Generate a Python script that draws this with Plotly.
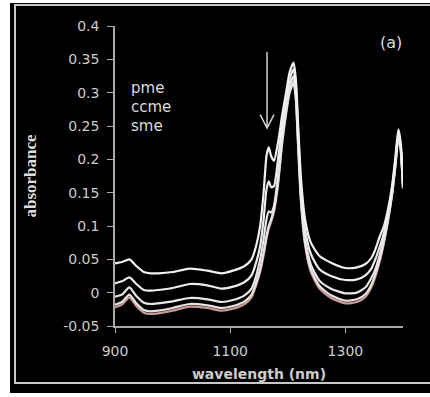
import plotly.graph_objects as go

wavelength = [900, 912, 925, 937, 950, 962, 975, 1000, 1030, 1060, 1085, 1105, 1125, 1137, 1145,
              1152, 1158, 1163, 1167, 1171, 1176, 1183, 1190, 1197, 1203, 1210, 1214, 1218, 1223,
              1230, 1240, 1255, 1275, 1300, 1320, 1335, 1345, 1352, 1360, 1367, 1374, 1381, 1387,
              1392, 1396, 1400]

s1 = [0.044, 0.046, 0.050, 0.040, 0.031, 0.029, 0.029, 0.031, 0.036, 0.033, 0.029, 0.033, 0.040,
      0.050, 0.070, 0.100, 0.150, 0.205, 0.218, 0.205, 0.198, 0.225, 0.265, 0.300, 0.330, 0.345,
      0.320, 0.250, 0.170, 0.110, 0.075, 0.055, 0.045, 0.037, 0.038, 0.043, 0.052, 0.065, 0.085,
      0.100, 0.125, 0.160, 0.205, 0.245, 0.225, 0.165]
s2 = [0.014, 0.017, 0.023, 0.013, 0.004, 0.003, 0.004, 0.007, 0.013, 0.011, 0.006, 0.009, 0.016,
      0.026, 0.045, 0.070, 0.110, 0.155, 0.167, 0.158, 0.160, 0.200, 0.250, 0.290, 0.320, 0.335,
      0.310, 0.240, 0.155, 0.095, 0.058, 0.035, 0.025, 0.019, 0.020, 0.026, 0.036, 0.050, 0.070,
      0.090, 0.118, 0.155, 0.200, 0.240, 0.220, 0.162]
s3 = [-0.006, -0.003, 0.008, -0.005, -0.015, -0.017, -0.016, -0.013, -0.008, -0.010, -0.014, -0.011,
      -0.004, 0.006, 0.025, 0.050, 0.080, 0.110, 0.122, 0.120, 0.130, 0.175, 0.235, 0.280, 0.310,
      0.325, 0.300, 0.230, 0.145, 0.082, 0.042, 0.018, 0.006, -0.001, 0.000, 0.008, 0.022, 0.035,
      0.058, 0.082, 0.112, 0.150, 0.195, 0.237, 0.218, 0.160]
s4 = [-0.018, -0.014, -0.003, -0.016, -0.026, -0.028, -0.027, -0.023, -0.017, -0.019, -0.023, -0.020,
      -0.013, -0.003, 0.015, 0.035, 0.060, 0.085, 0.100, 0.110, 0.125, 0.165, 0.225, 0.270, 0.300,
      0.315, 0.290, 0.220, 0.138, 0.075, 0.035, 0.010, -0.004, -0.012, -0.010, -0.002, 0.012, 0.028,
      0.052, 0.078, 0.110, 0.148, 0.193, 0.235, 0.215, 0.158]
s5 = [-0.022, -0.018, -0.007, -0.020, -0.030, -0.032, -0.031, -0.027, -0.021, -0.023, -0.027, -0.024,
      -0.017, -0.007, 0.011, 0.031, 0.056, 0.081, 0.096, 0.106, 0.121, 0.162, 0.222, 0.268, 0.300,
      0.318, 0.292, 0.218, 0.134, 0.071, 0.031, 0.006, -0.008, -0.016, -0.014, -0.006, 0.008, 0.024,
      0.048, 0.075, 0.107, 0.146, 0.191, 0.233, 0.213, 0.156]

series = [("s5", s5, "#c99a94", 2.2), ("s4", s4, "#e4e4e4", 2.2), ("s3", s3, "#e8e8e8", 2.2),
          ("s2", s2, "#ececec", 2.2), ("s1", s1, "#f0f0f0", 2.2)]

x_ticks = [900, 1100, 1300]
x_ticklabels = ["900", "1100", "1300"]
y_ticks = [-0.05, 0, 0.05, 0.1, 0.15, 0.2, 0.25, 0.3, 0.35, 0.4]
y_ticklabels = ["-0.05", "0", "0.05", "0.1", "0.15", "0.2", "0.25", "0.3", "0.35", "0.4"]
legend_labels = ["pme", "ccme", "sme"]

fig = go.Figure()
for name, vals, col, w in series:
    fig.add_trace(go.Scatter(x=wavelength, y=vals, mode="lines", name=name,
                             line=dict(color=col, width=w, shape="spline", smoothing=0.6),
                             showlegend=False, hoverinfo="skip"))

W, H = 430, 397
L, R, T, B = 115, 27, 26, 71
pw, ph = W - L - R, H - T - B


def px(x):
    return (x - L) / pw


def py(y):
    return (T + ph - y) / ph


shapes = [
    dict(type="rect", xref="paper", yref="paper", x0=px(10), x1=px(431), y0=py(393), y1=py(3),
         fillcolor="black", line=dict(width=0), layer="below"),
    dict(type="rect", xref="paper", yref="paper", x0=px(15), x1=px(440), y0=py(383), y1=py(5),
         fillcolor="rgba(0,0,0,0)", line=dict(color="#c8c8c8", width=2), layer="below"),
    dict(type="path", xref="x", yref="y",
         path="M1164,0.361 L1164,0.247 M1152,0.267 L1164,0.247 L1176,0.267",
         line=dict(color="#cfcfcf", width=1.5)),
]

annotations = [
    dict(xref="paper", yref="paper", x=px(391), y=py(42), text="(a)", showarrow=False,
         xanchor="center", yanchor="middle",
         font=dict(family="DejaVu Sans", size=16, color="#dcdcdc")),
]
for i, lab in enumerate(legend_labels):
    annotations.append(dict(xref="paper", yref="paper", x=px(129), y=py(88 + 19 * i), text=lab,
                            showarrow=False, xanchor="left", yanchor="middle",
                            font=dict(family="DejaVu Sans", size=15, color="#dcdcdc")))

fig.update_layout(
    width=W, height=H,
    margin=dict(l=L, r=R, t=T, b=B),
    paper_bgcolor="white", plot_bgcolor="black",
    shapes=shapes, annotations=annotations,
    xaxis=dict(range=[900, 1400], tickvals=x_ticks, ticktext=x_ticklabels,
               showgrid=False, zeroline=False, showline=True, linecolor="#a8a8a8", linewidth=1.5,
               ticks="outside", ticklen=5, tickcolor="#a8a8a8", ticklabelstandoff=6,
               tickfont=dict(family="DejaVu Sans", size=14, color="#cccccc"),
               title=dict(text="<b>wavelength (nm)</b>", standoff=12,
                          font=dict(family="DejaVu Sans", size=14, color="#cccccc"))),
    yaxis=dict(range=[-0.05, 0.4], tickvals=y_ticks, ticktext=y_ticklabels,
               showgrid=False, zeroline=False, showline=True, linecolor="#a8a8a8", linewidth=1.5,
               ticks="outside", ticklen=6, tickcolor="#a8a8a8", ticklabelstandoff=5,
               tickfont=dict(family="DejaVu Sans", size=14, color="#cccccc"),
               title=dict(text="<b>absorbance</b>", standoff=22,
                          font=dict(family="Liberation Serif", size=17, color="#dddddd"))),
)

fig.write_html("out.html", config={"displayModeBar": False},
               post_script="document.body.style.margin='0';")
